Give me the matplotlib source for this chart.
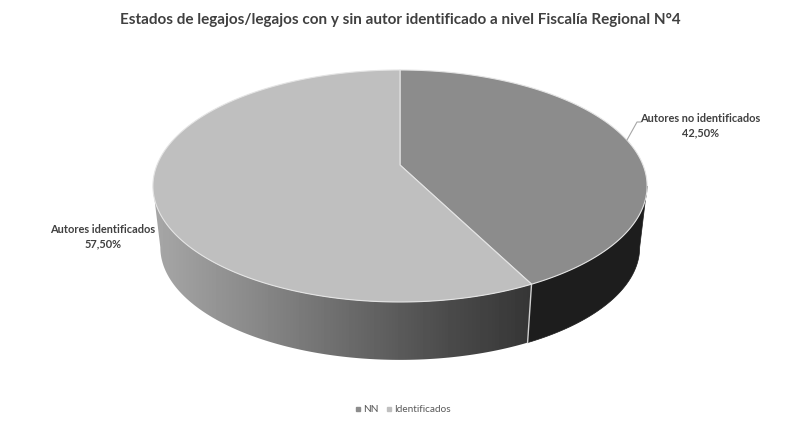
import numpy as np
import matplotlib
matplotlib.use("Agg")
import matplotlib.pyplot as plt
from matplotlib.lines import Line2D
from matplotlib.patches import Polygon

# data
title = "Estados de legajos/legajos con y sin autor identificado a nivel Fiscalía Regional N°4"
series_names = ["NN", "Identificados"]
slice_labels = ["Autores no identificados", "Autores identificados"]
shares = [42.5, 57.5]

# colours
top_colors = ["#8c8c8c", "#bfbfbf"]
right_side_color = "#1d1d1d"
side_stops_x = [160, 250, 350, 450, 530]
side_stops_grey = [165, 138, 106, 74, 54]

plt.rcParams["font.family"] = ["Lato", "DejaVu Sans"]

# perspective of the disc, in pixels of the picture
CX = 400
CY_TOP = 165
CY_BOTTOM = 227
RX = 243
RY = 112.2
PERSP = 0.181
BOTTOM_SCALE = 0.97


def disc(deg, cy, scale=1.0):
    # angle runs clockwise from the back of the pie
    t = np.radians(deg)
    u = np.sin(t)
    v = -np.cos(t)
    d = 1 - PERSP * v
    return np.column_stack((CX + scale * RX * u / d, cy + scale * RY * v / d))


def side_poly(a, b):
    th = np.linspace(a, b, 150)
    return np.vstack((disc(th, CY_TOP), disc(th[::-1], CY_BOTTOM, BOTTOM_SCALE)))


fig = plt.figure(figsize=(8.0, 4.21), dpi=100, facecolor="white")
ax = fig.add_axes([0, 0, 1, 1])
ax.axis("off")

split = 360 * shares[0] / sum(shares)
edge_l = np.degrees(np.arccos(-PERSP))
edge_r = 360 - edge_l

# outer wall, gradient under the big slice and flat dark under the small one
grad_x = np.arange(140, 660)
grad = np.interp(grad_x, side_stops_x, side_stops_grey).reshape(1, -1)
wall = Polygon(side_poly(split, edge_r), closed=True, fc="none", ec="none")
ax.add_patch(wall)
im = ax.imshow(grad, extent=(140, 660, 421, 0), cmap="gray", vmin=0, vmax=255,
               aspect="auto", zorder=1)
im.set_clip_path(wall)
ax.add_patch(Polygon(side_poly(edge_l, split), closed=True, fc=right_side_color,
                     ec=right_side_color, lw=0.5, zorder=1))

# seam on the wall
seam = np.vstack((disc(split, CY_TOP), disc(split, CY_BOTTOM, BOTTOM_SCALE)))
ax.plot(seam[:, 0], seam[:, 1], color="#d0d0d0", lw=1.0, zorder=2)

# top faces
starts = [0, split]
ends = [split, 360]
for a, b, c in zip(starts, ends, top_colors):
    rim = disc(np.linspace(a, b, 300), CY_TOP)
    pts = np.vstack(([[CX, CY_TOP]], rim))
    ax.add_patch(Polygon(pts, closed=True, fc=c, ec="#e4e4e4", lw=0.8, zorder=3,
                         joinstyle="round"))

# data labels
label_pos = [(700, 126), (103, 237)]
for (x, y), name, val in zip(label_pos, slice_labels, shares):
    txt = f"{name}\n{val:.2f}%".replace(".", ",")
    ax.text(x, y, txt, ha="center", va="center", fontsize=7.9,
            fontweight="bold", color="#404040", linespacing=1.35, zorder=5)

# leader line
ax.plot([627, 637, 641], [140, 122, 122], color="#a6a6a6", lw=0.8, zorder=4)

ax.set_xlim(0, 800)
ax.set_ylim(421, 0)

ax.text(400, 20, title, ha="center", va="center", fontsize=10.95,
        fontweight="bold", color="#404040")

handles = [Line2D([], [], ls="none", marker="s", ms=2.6, color=c) for c in top_colors]
ax.legend(handles, series_names, loc="center", bbox_to_anchor=(403.5 / 800, 1 - 410 / 421),
          ncol=2, frameon=False, fontsize=7.2, labelcolor="#595959", handlelength=0.5,
          handletextpad=0.25, columnspacing=0.8, borderpad=0)

fig.savefig("out.png", dpi=100, facecolor="white")
